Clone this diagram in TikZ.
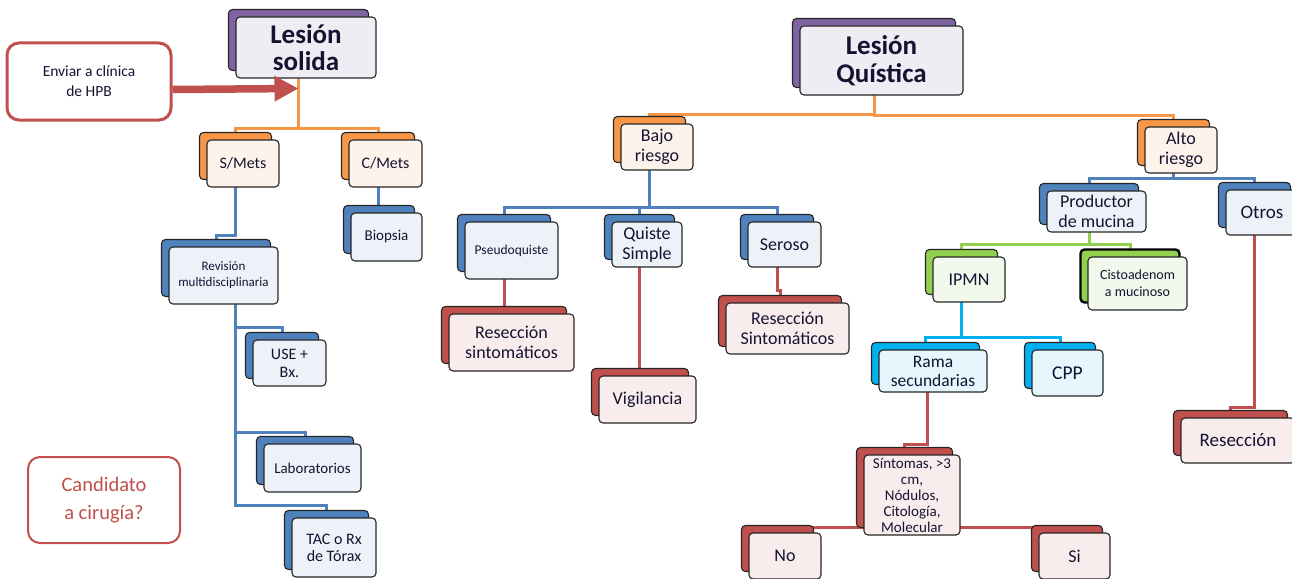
\documentclass[tikz,border=0pt]{standalone}
\usepackage{fontspec}
\setmainfont{Carlito}
\usetikzlibrary{arrows.meta,calc,backgrounds}

% theme colours: darker tab behind each card, pale face in front
\definecolor{puback}{HTML}{8064A2}\definecolor{pufront}{HTML}{EFEDF4}
\definecolor{orback}{HTML}{F79646}\definecolor{orfront}{HTML}{FEF3EA}
\definecolor{blback}{HTML}{4F81BD}\definecolor{blfront}{HTML}{EDF2F8}
\definecolor{rdback}{HTML}{C0504D}\definecolor{rdfront}{HTML}{F9ECEC}
\definecolor{grback}{HTML}{92D050}\definecolor{grfront}{HTML}{F2F8EC}
\definecolor{cyback}{HTML}{00B0F0}\definecolor{cyfront}{HTML}{E5F6FD}
\definecolor{ink}{HTML}{141432}
\definecolor{cardline}{HTML}{262626}

\tikzset{
  card/.style={draw=cardline, line width=1.1pt, rounded corners=4pt,
    inner sep=0pt, outer sep=0pt, align=center, text=ink,
    font=\fontsize{18}{20}\selectfont},
  cardback/.style={},
  conn/.style={draw=#1, line width=3pt},
  envbox/.style={draw=rdback, line width=3pt, rounded corners=12pt, fill=white,
    minimum width=164pt, minimum height=77pt, align=center, text=ink,
    font=\fontsize{15.5}{20}\selectfont},
  candbox/.style={draw=rdback, line width=2pt, rounded corners=12pt, fill=white,
    minimum width=152pt, minimum height=86pt, align=center, text=rdback,
    font=\fontsize{20.5}{28}\selectfont},
  bigarrow/.style={draw=rdback, line width=7.5pt,
    -{Triangle[length=24pt,width=24pt]}},
}

% #1 name, #2 theme, #3 x, #4 y, #5 width, #6 height, #7 text style, #8 text
\newcommand\card[8]{%
  \node[card, cardback, fill=#2back, minimum width=#5pt, minimum height=#6pt]
    (#1b) at (#3-7.5,#4-7.5) {};
  \node[card, fill=#2front, minimum width=#5pt, minimum height=#6pt, #7]
    (#1) at (#3,#4) {#8};
}

\begin{document}
\begin{tikzpicture}[x=1pt,y=-1pt]
\useasboundingbox (0,0) rectangle (1292,578);

% ---- solid lesion branch
\card{sol}{pu}{306}{47.5}{140}{61}{font=\bfseries\fontsize{27}{27}\selectfont}{Lesión\\solida}
\card{smets}{or}{243}{163.5}{72}{47}{font=\fontsize{16}{18}\selectfont}{S/Mets}
\card{cmets}{or}{385.5}{163.5}{73}{47}{font=\fontsize{16}{18}\selectfont}{C/Mets}
\card{rev}{bl}{223.5}{275.5}{109}{57}{font=\fontsize{13}{16}\selectfont}{Revisión\\multidisciplinaria}
\card{use}{bl}{289.5}{363}{73}{46}{font=\fontsize{16}{18}\selectfont}{USE +\\Bx.}
\card{lab}{bl}{312.5}{468}{97}{48}{font=\fontsize{15}{18}\selectfont}{Laboratorios}
\card{tac}{bl}{334}{547.5}{84}{59}{font=\fontsize{16}{17}\selectfont}{TAC o Rx\\de Tórax}
\card{bio}{bl}{386.5}{237}{71}{48}{font=\fontsize{15}{18}\selectfont}{Biopsia}

% ---- cystic lesion branch
\card{quis}{pu}{881.5}{60.5}{163}{69}{font=\bfseries\fontsize{27}{28}\selectfont}{Lesión\\Quística}
\card{bajo}{or}{657}{147}{72}{46}{}{Bajo\\riesgo}
\card{alto}{or}{1181}{150}{72}{46}{}{Alto\\riesgo}
\card{pseudo}{bl}{511.5}{250.5}{93}{57}{font=\fontsize{13.5}{16}\selectfont}{Pseudoquiste}
\card{qs}{bl}{647}{244.5}{70}{45}{}{Quiste\\Simple}
\card{ser}{bl}{784.5}{244.5}{73}{45}{}{Seroso}
\card{resa}{rd}{511.5}{342.5}{125}{57}{}{Resección\\sintomáticos}
\card{vig}{rd}{647.5}{399.5}{97}{47}{}{Vigilancia}
\card{resb}{rd}{787.5}{328.5}{123}{51}{}{Resección\\Sintomáticos}
\card{prod}{bl}{1096.5}{211.5}{99}{41}{}{Productor\\de mucina}
\card{otros}{bl}{1262}{212.5}{72}{45}{font=\fontsize{19}{20}\selectfont}{Otros}
\card{ipmn}{gr}{969}{279.5}{72}{45}{}{IPMN}
\begin{scope}[cardback/.style={line width=2.4pt, draw=black}]
\card{cisto}{gr}{1137.5}{283.5}{99}{53}{font=\fontsize{14}{17}\selectfont}{Cistoadenom\\a mucinoso}
\end{scope}
\card{rama}{cy}{933}{371}{108}{42}{font=\fontsize{17.5}{19}\selectfont}{Rama\\secundarias}
\card{cpp}{cy}{1067.5}{373}{71}{46}{font=\fontsize{19.5}{20}\selectfont}{CPP}
\card{sint}{rd}{912}{495}{96}{80}{font=\fontsize{15}{16}\selectfont}{Síntomas, >3\\cm,\\Nódulos,\\Citología,\\Molecular}
\card{no}{rd}{785}{556}{72}{46}{}{No}
\card{si}{rd}{1074.5}{556}{71}{46}{}{Si}
\card{resc}{rd}{1238}{440.5}{114}{45}{font=\fontsize{19}{20}\selectfont}{Resección}

% ---- side notes
\node[envbox] (env) at (89,81.5) {Enviar a clínica\\de HPB};
\node[candbox] (cand) at (104,500) {Candidato\\a cirugía?};

% ---- connectors behind the cards
\begin{scope}[on background layer]
  \fill[white] (0,0) rectangle (1292,578);
  % solid lesion
  \draw[conn=orback] (solb.south) |- (smetsb.north |- 0,128) -- (smetsb.north);
  \draw[conn=orback] (solb.south) |- (cmetsb.north |- 0,128) -- (cmetsb.north);
  \draw[conn=blback] (smetsb.south) |- (revb.north |- 0,235) -- (revb.north);
  \coordinate (revtrunk) at (smetsb.south |- revb.south);
  \draw[conn=blback] (revtrunk) |- (useb.north |- 0,327) -- (useb.north);
  \draw[conn=blback] (revtrunk) |- (labb.north |- 0,432) -- (labb.north);
  \draw[conn=blback] (revtrunk) |- (tacb.north |- 0,505) -- (tacb.north);
  \draw[conn=blback] (cmetsb.south) -- (cmetsb.south |- biob.north);
  % cystic lesion
  \draw[conn=orback] (quisb.south) |- (bajob.north |- 0,114) -- (bajob.north);
  \draw[conn=orback] (quisb.south) |- (altob.north |- 0,115) -- (altob.north);
  \draw[conn=blback] (bajob.south) |- (pseudob.north |- 0,207) -- (pseudob.north);
  \draw[conn=blback] (bajob.south) |- (qsb.north |- 0,207) -- (qsb.north);
  \draw[conn=blback] (bajob.south) |- (serb.north |- 0,207) -- (serb.north);
  \draw[conn=rdback] (pseudob.south) -- (pseudob.south |- resab.north);
  \draw[conn=rdback] (qsb.south) -- (qsb.south |- vigb.north);
  \draw[conn=rdback] (serb.south) |- ($(resbb.north)+(0,-5)$) -- (resbb.north);
  \draw[conn=blback] (altob.south) |- (prodb.north |- 0,178) -- (prodb.north);
  \draw[conn=blback] (altob.south) |- (otrosb.north |- 0,178) -- (otrosb.north);
  \draw[conn=grback] (prodb.south) |- (ipmnb.north |- 0,244) -- (ipmnb.north);
  \draw[conn=grback] (prodb.south) |- (cistob.north |- 0,244) -- (cistob.north);
  \draw[conn=cyback] (ipmnb.south) |- (ramab.north |- 0,337) -- (ramab.north);
  \draw[conn=cyback] (ipmnb.south) |- (cppb.north |- 0,337) -- (cppb.north);
  \draw[conn=rdback] ($(ramab.south)+(1.5,0)$) |- ($(sintb.north)+(0,-3)$) -- (sintb.north);
  \draw[conn=rdback] (sintb.south) -| (nob.north);
  \draw[conn=rdback] (sintb.south) -| (sib.north);
  \draw[conn=rdback] (otrosb.south) |- ($(rescb.north)+(0,-3)$) -- (rescb.north);
\end{scope}

% ---- referral arrow onto the solid lesion stem
\draw[bigarrow] ($(env.east)+(0,8)$) -- ($(solb.south)+(0,18)$);
\end{tikzpicture}
\end{document}
